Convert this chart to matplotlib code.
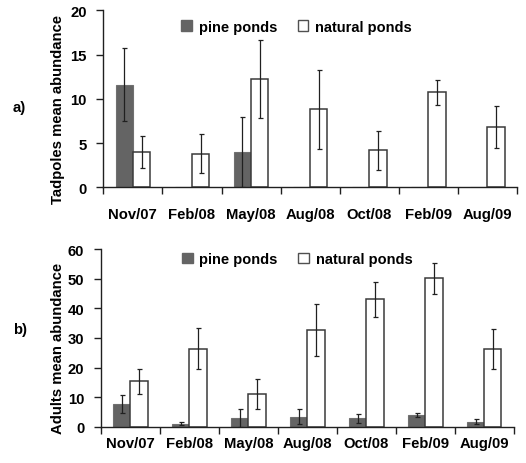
import matplotlib
matplotlib.use("Agg")
import matplotlib.pyplot as plt
from matplotlib.patches import Patch
import numpy as np

plt.rcParams['font.family'] = ['Liberation Sans', 'DejaVu Sans']
plt.rcParams['font.weight'] = 'bold'

categories = ["Nov/07", "Feb/08", "May/08", "Aug/08", "Oct/08", "Feb/09", "Aug/09"]

tad_pine = [11.6, 0, 4.0, 0, 0, 0, 0]
tad_pine_err = [4.1, 0, 4.0, 0, 0, 0, 0]
tad_nat = [4.0, 3.8, 12.2, 8.8, 4.2, 10.75, 6.8]
tad_nat_err = [1.8, 2.2, 4.4, 4.45, 2.2, 1.4, 2.4]

ad_pine = [7.7, 1.0, 2.9, 3.4, 2.8, 3.95, 1.6]
ad_pine_err = [3.1, 0.45, 3.0, 2.6, 1.5, 0.75, 0.85]
ad_nat = [15.3, 26.4, 11.05, 32.7, 43.1, 50.2, 26.4]
ad_nat_err = [4.35, 6.9, 5.2, 8.9, 6.0, 5.25, 6.75]

PINE = '#646464'
EDGE_N = '#3a3a3a'
FS = 10.7

fig = plt.figure(figsize=(5.26, 4.64), dpi=100)
ax1 = fig.add_axes([103.3/526, 1-188.3/464, 413.7/526, 177/464])
ax2 = fig.add_axes([101/526, 1-427.7/464, 412.7/526, 177.4/464])

w = 0.293
x = np.arange(len(categories)) + 0.5

def draw(ax, pine, pe, nat, ne, ymax, ystep, label_pad, ylabel, leg_anchor):
    ax.bar(x - w/2, pine, w, color=PINE, edgecolor='#707070', linewidth=0.8, zorder=2)
    ax.bar(x + w/2, nat, w, color='white', edgecolor=EDGE_N, linewidth=1.1, zorder=2)
    pe_arr = np.array(pe)
    mask = pe_arr > 0
    ax.errorbar((x - w/2)[mask], np.array(pine)[mask], yerr=pe_arr[mask], fmt='none',
                ecolor='#202020', elinewidth=0.9, capsize=1.8, capthick=0.9, zorder=3)
    ax.errorbar(x + w/2, nat, yerr=ne, fmt='none',
                ecolor='#202020', elinewidth=0.9, capsize=1.8, capthick=0.9, zorder=3)
    ax.set_xlim(0, len(categories))
    ax.set_ylim(0, ymax)
    ax.set_yticks(np.arange(0, ymax + 0.1, ystep))
    ax.set_xticks(np.arange(0, len(categories) + 1))
    ax.set_xticklabels([])
    ax.set_xticks(x, minor=True)
    ax.set_xticklabels(categories, minor=True, fontsize=FS, fontweight='bold')
    ax.tick_params(axis='x', which='minor', length=0, pad=label_pad)
    ax.tick_params(axis='x', which='major', length=5, width=1, direction='out', color='#202020')
    ax.tick_params(axis='y', length=5, width=1, direction='out', pad=7, labelsize=FS, color='#202020')
    for t in ax.get_yticklabels():
        t.set_fontweight('bold')
    for s in ['top', 'right']:
        ax.spines[s].set_visible(False)
    for s in ['left', 'bottom']:
        ax.spines[s].set_linewidth(1.0)
        ax.spines[s].set_color('#202020')
    handles = [Patch(facecolor=PINE, edgecolor=PINE, label='pine ponds'),
               Patch(facecolor='white', edgecolor='#505050', linewidth=1.0, label='natural ponds')]
    ax.legend(handles=handles, loc='center', bbox_to_anchor=leg_anchor, ncol=2, frameon=False,
              prop={'weight': 'bold', 'size': 10.5}, handlelength=0.75, handleheight=0.75,
              handletextpad=0.45, columnspacing=1.4, borderpad=0, borderaxespad=0)

draw(ax1, tad_pine, tad_pine_err, tad_nat, tad_nat_err, 20, 5, 14,
     "Tadpoles mean abundance", (0.467, 0.908))
draw(ax2, ad_pine, ad_pine_err, ad_nat, ad_nat_err, 60, 10, 6.5,
     "Adults mean abundance", (0.475, 0.945))

fig.text(58/526, 1-110/464, "Tadpoles mean abundance", rotation=90, ha='center', va='center',
         fontsize=FS, fontweight='bold')
fig.text(58/526, 1-348/464, "Adults mean abundance", rotation=90, ha='center', va='center',
         fontsize=FS, fontweight='bold')
fig.text(13/526, 1-108/464, "a)", ha='left', va='center', fontsize=FS, fontweight='bold')
fig.text(13/526, 1-330/464, "b)", ha='left', va='center', fontsize=FS, fontweight='bold')

fig.savefig("out.png", dpi=100)
